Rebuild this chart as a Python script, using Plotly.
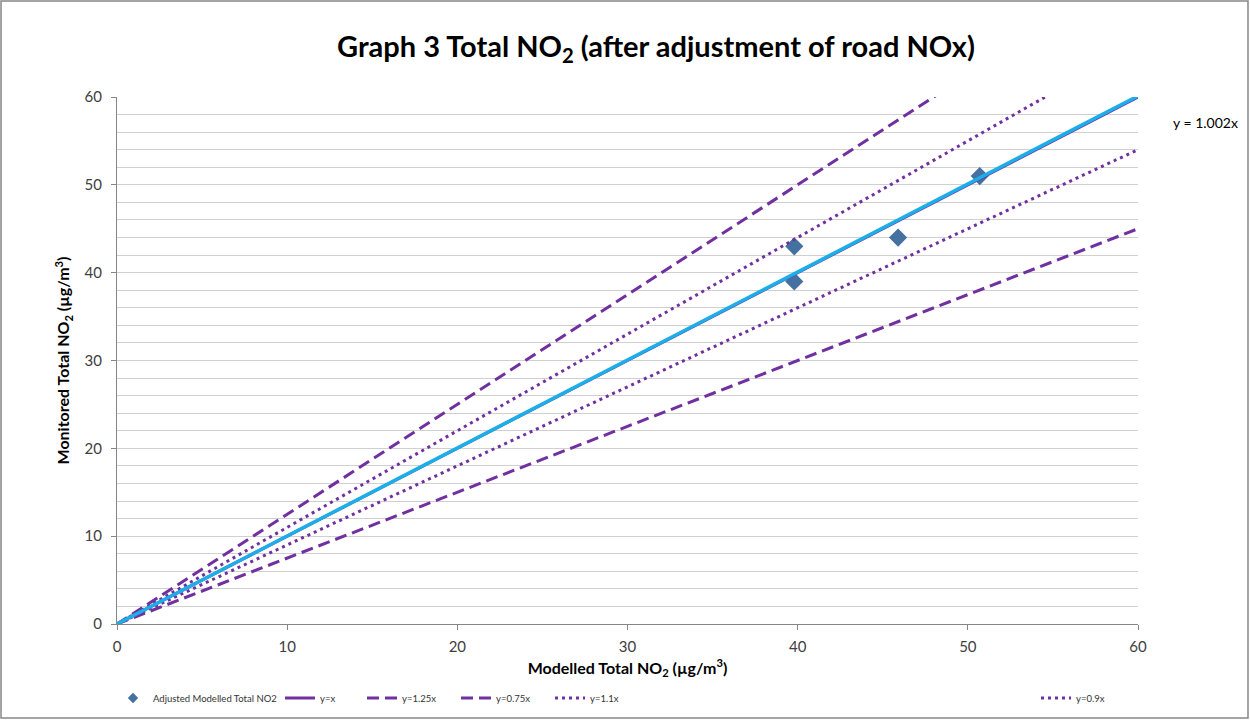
import plotly.graph_objects as go

# Data
modelled = [39.8, 39.8, 45.9, 50.7]
monitored = [43.0, 39.0, 44.0, 51.0]
ref_names = ["y=x", "y=1.25x", "y=0.75x", "y=1.1x", "y=0.9x"]
ref_slopes = [1.0, 1.25, 0.75, 1.1, 0.9]
ref_dash = ["solid", "12px,6px", "12px,6px", "3px,4px", "3px,4px"]
line_x = [0, 60]
trend_slope = 1.002

PURPLE = "#7030A0"
MARKER = "#44719F"
FONT = "Lato, 'Open Sans', sans-serif"

W, H = 1250, 720
L, R, T, B = 117, 112, 97, 96
PW, PH = W - L - R, H - T - B

def px(xp):
    return (xp - L) / PW

def py(yp):
    return (H - B - yp) / PH

fig = go.Figure()

legend_pos = [113, 280, 362, 456, 550, 1036]

fig.add_trace(go.Scatter(
    x=modelled, y=monitored, mode="markers",
    name="Adjusted Modelled Total NO2", showlegend=False,
    marker=dict(symbol="diamond", size=14, color=MARKER),
))
# legend entry with small symbol (as in the reference legend)
fig.add_trace(go.Scatter(
    x=[None], y=[None], mode="markers",
    name="Adjusted Modelled Total NO2",
    marker=dict(symbol="diamond", size=8, color=MARKER),
    legend="legend",
))

for i, (nm, k, d) in enumerate(zip(ref_names, ref_slopes, ref_dash)):
    fig.add_trace(go.Scatter(
        x=line_x, y=[k * v for v in line_x], mode="lines", name=nm,
        line=dict(color=PURPLE, width=3, dash=d),
        legend="legend%d" % (i + 2),
    ))

fig.add_trace(go.Scatter(
    x=line_x, y=[trend_slope * v for v in line_x], mode="lines",
    name="Linear", showlegend=False,
    line=dict(color="#1BAEE8", width=3.5),
))

layout_legends = {}
for i, xp in enumerate(legend_pos):
    key = "legend" if i == 0 else "legend%d" % (i + 1)
    layout_legends[key] = dict(
        x=px(xp), y=py(698), xanchor="left", yanchor="middle",
        orientation="h", font=dict(family=FONT, size=9.5, color="#333333"),
        bgcolor="rgba(0,0,0,0)", itemwidth=30,
    )

fig.update_layout(
    width=W, height=H,
    margin=dict(l=L, r=R, t=T, b=B, autoexpand=False),
    paper_bgcolor="white", plot_bgcolor="white",
    font=dict(family=FONT, color="#404040"),
    title=dict(
        text="Graph 3 Total NO<sub>2</sub> (after adjustment of road NOx)",
        x=656 / W, xanchor="center", y=1 - 47 / H, yanchor="middle",
        font=dict(family=FONT, size=29, color="#000000", weight="bold"),
    ),
    xaxis=dict(
        range=[0, 60], dtick=10, showgrid=False, zeroline=False,
        showline=True, linecolor="#868686", linewidth=1,
        ticks="outside", ticklen=5, tickcolor="#868686",
        ticklabelstandoff=4,
        tickfont=dict(family=FONT, size=15, color="#404040"),
        title=dict(text="Modelled Total NO<sub>2</sub> (µg/m<sup>3</sup>)",
                   font=dict(family=FONT, size=16, color="#000000", weight="bold"),
                   standoff=8),
    ),
    yaxis=dict(
        range=[0, 60], dtick=10, showgrid=True, gridcolor="#D0D0D0", gridwidth=1,
        zeroline=False, showline=True, linecolor="#868686", linewidth=1,
        ticks="outside", ticklen=5, tickcolor="#868686",
        ticklabelstandoff=6,
        tickfont=dict(family=FONT, size=15, color="#404040"),
        minor=dict(dtick=2, showgrid=True, gridcolor="#D0D0D0", gridwidth=1),
        title=dict(text="Monitored Total NO<sub>2</sub> (µg/m<sup>3</sup>)",
                   font=dict(family=FONT, size=16, color="#000000", weight="bold"),
                   standoff=10),
    ),
    annotations=[dict(
        text="y = 1.002x", xref="paper", yref="paper",
        x=px(1205), y=py(122), xanchor="center", yanchor="middle",
        showarrow=False, font=dict(family=FONT, size=14, color="#000000"),
    )],
    shapes=[dict(
        type="rect", xref="paper", yref="paper",
        x0=px(1), x1=px(1248), y0=py(718), y1=py(1),
        line=dict(color="#868686", width=1.5), fillcolor="rgba(0,0,0,0)",
        layer="below",
    )],
    **layout_legends,
)

fig.write_html("out.html")
